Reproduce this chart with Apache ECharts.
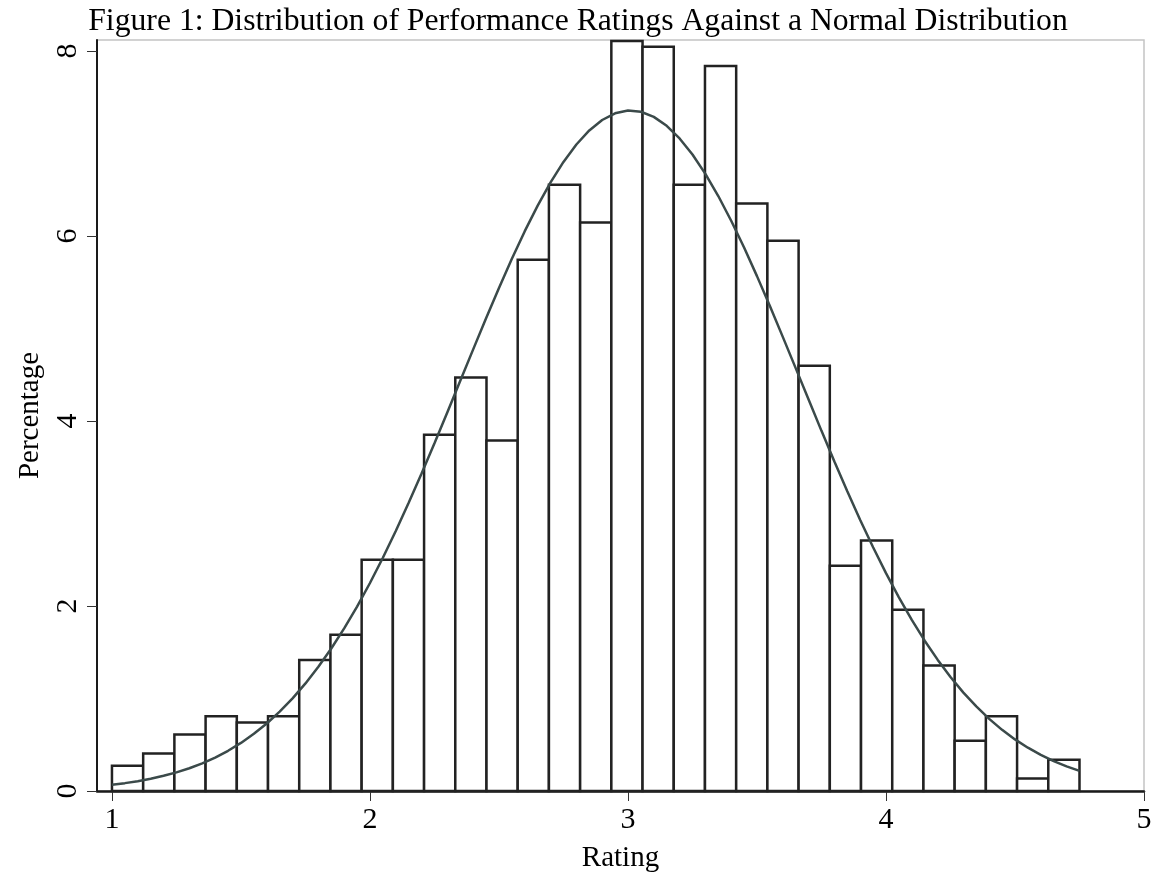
<!DOCTYPE html>
<html>
<head>
<meta charset="utf-8">
<script src="https://cdn.jsdelivr.net/npm/echarts@6/dist/echarts.min.js"></script>
<style>
html,body{margin:0;padding:0;background:#fff;}
#chart{width:1156px;height:878px;}
</style>
</head>
<body>
<div id="chart"></div>
<script>
// Histogram: 31 bins from 1 to 4.75, percent of observations per bin
const binMin = 1;
const binMax = 4.75;
const percents = [0.273, 0.406, 0.611, 0.809, 0.740, 0.809, 1.417, 1.690,
  2.500, 2.500, 3.853, 4.470, 3.790, 5.745, 6.554, 6.147, 8.108, 8.046,
  6.554, 7.840, 6.352, 5.950, 4.597, 2.435, 2.709, 1.960, 1.356, 0.543,
  0.809, 0.136, 0.338];

// Normal curve
const curveX = [1.00, 1.05, 1.10, 1.15, 1.20, 1.25, 1.30, 1.35, 1.40, 1.45, 1.50, 1.55,
  1.60, 1.65, 1.70, 1.75, 1.80, 1.85, 1.90, 1.95, 2.00, 2.05, 2.10, 2.15, 2.20, 2.25,
  2.30, 2.35, 2.40, 2.45, 2.50, 2.55, 2.60, 2.65, 2.70, 2.75, 2.80, 2.85, 2.90, 2.95,
  3.00, 3.05, 3.10, 3.15, 3.20, 3.25, 3.30, 3.35, 3.40, 3.45, 3.50, 3.55, 3.60, 3.65,
  3.70, 3.75, 3.80, 3.85, 3.90, 3.95, 4.00, 4.05, 4.10, 4.15, 4.20, 4.25, 4.30, 4.35,
  4.40, 4.45, 4.50, 4.55, 4.60, 4.65, 4.70, 4.75];
const curveY = [0.067, 0.085, 0.106, 0.132, 0.164, 0.201, 0.246, 0.299, 0.362, 0.435,
  0.520, 0.618, 0.730, 0.858, 1.002, 1.163, 1.343, 1.541, 1.758, 1.994, 2.249, 2.522,
  2.812, 3.116, 3.433, 3.761, 4.096, 4.436, 4.775, 5.111, 5.439, 5.754, 6.053, 6.329,
  6.581, 6.802, 6.990, 7.142, 7.255, 7.327, 7.357, 7.344, 7.289, 7.192, 7.056, 6.882,
  6.673, 6.433, 6.166, 5.876, 5.567, 5.244, 4.910, 4.572, 4.232, 3.894, 3.563, 3.241,
  2.931, 2.636, 2.356, 2.094, 1.850, 1.625, 1.420, 1.233, 1.064, 0.914, 0.780, 0.661,
  0.558, 0.468, 0.390, 0.323, 0.267, 0.218];

const xTicks = [1, 2, 3, 4, 5];
const yTicks = [0, 2, 4, 6, 8];

const binW = (binMax - binMin) / percents.length;
const barData = percents.map((p, i) => [binMin + i * binW, binMin + (i + 1) * binW, p]);
const lineData = curveX.map((x, i) => [x, curveY[i]]);

const serif = '"Liberation Serif", "Times New Roman", serif';
const chart = echarts.init(document.getElementById('chart'), null, {renderer: 'canvas'});
chart.setOption({
  animation: false,
  backgroundColor: '#fff',
  title: {
    text: 'Figure 1: Distribution of Performance Ratings Against a Normal Distribution',
    left: 'center',
    top: 1,
    textStyle: {fontFamily: serif, fontWeight: 'normal', fontSize: 31.7, color: '#000'}
  },
  grid: {
    left: 97, right: 12, top: 40, bottom: 86,
    show: true, borderColor: '#c4c4c4', borderWidth: 1.5, backgroundColor: 'transparent'
  },
  xAxis: {
    type: 'value',
    min: 0.942, max: 5,
    name: 'Rating',
    nameLocation: 'middle',
    nameGap: 53,
    nameTextStyle: {fontFamily: serif, fontSize: 29, color: '#000'},
    axisLine: {show: true, onZero: false, lineStyle: {color: '#1a1a1a', width: 2.5}},
    axisTick: {show: true, length: 10, customValues: xTicks, lineStyle: {color: '#333', width: 1}},
    axisLabel: {customValues: xTicks, margin: 14, fontFamily: serif, fontSize: 30, color: '#000'},
    splitLine: {show: false}
  },
  yAxis: {
    type: 'value',
    min: 0, max: 8.12,
    name: 'Percentage',
    nameLocation: 'middle',
    nameRotate: 90,
    nameGap: 52,
    nameTextStyle: {fontFamily: serif, fontSize: 29, color: '#000'},
    axisLine: {show: true, lineStyle: {color: '#1a1a1a', width: 2}},
    axisTick: {show: true, length: 10, customValues: yTicks, lineStyle: {color: '#333', width: 1}},
    axisLabel: {customValues: yTicks, rotate: 90, margin: 14, fontFamily: serif, fontSize: 30, color: '#000'},
    splitLine: {show: false}
  },
  series: [
    {
      type: 'custom',
      data: barData,
      encode: {x: [0, 1], y: 2},
      z: 2,
      renderItem: function (params, api) {
        const p0 = api.coord([api.value(0), api.value(2)]);
        const p1 = api.coord([api.value(1), 0]);
        return {
          type: 'rect',
          shape: {x: p0[0], y: p0[1], width: p1[0] - p0[0], height: p1[1] - p0[1]},
          style: {fill: '#fff', stroke: '#222', lineWidth: 2.5}
        };
      }
    },
    {
      type: 'line',
      data: lineData,
      smooth: false,
      showSymbol: false,
      z: 3,
      lineStyle: {color: '#3b4a4a', width: 2.5}
    }
  ]
});
</script>
</body>
</html>
